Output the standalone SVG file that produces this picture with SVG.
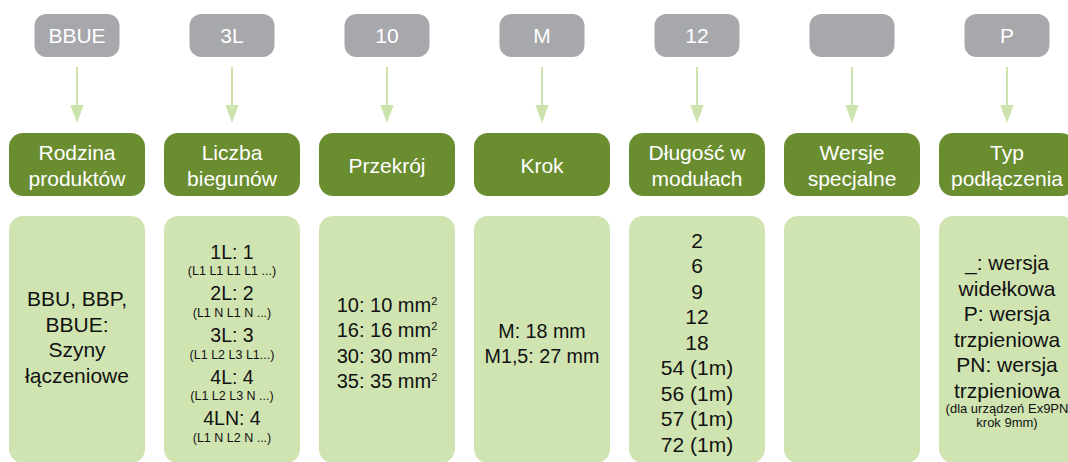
<svg xmlns="http://www.w3.org/2000/svg" width="1068" height="462" viewBox="0 0 1068 462">
<style>
.code{fill:#a7a8ab}
.head{fill:#6a8d30}
.body{fill:#d0e4b1}
text{font-family:"Liberation Sans",Arial,sans-serif;text-anchor:middle}
.wt{fill:#ffffff;font-size:21px}
.bt{fill:#111111;font-size:21px}
.lc{fill:#111111;font-size:19.5px}
.sm{fill:#111111;font-size:12.5px}
.kr{fill:#111111;font-size:19.7px}
.pr{fill:#111111;font-size:20px}
.nt{fill:#111111;font-size:13px}
.arr{stroke:#cde3ad;stroke-width:2;fill:none}
</style>
<defs>
<marker id="ah" markerUnits="userSpaceOnUse" markerWidth="18" markerHeight="14" refX="0" refY="6.7" orient="auto">
<path d="M0,0 L18,6.7 L0,13.4 Z" fill="#cde3ad"/>
</marker>
</defs>
<rect width="1068" height="462" fill="#ffffff"/>
<g id="connectors">
<line class="arr" x1="77" y1="67" x2="77" y2="105" marker-end="url(#ah)"/>
<line class="arr" x1="232" y1="67" x2="232" y2="105" marker-end="url(#ah)"/>
<line class="arr" x1="387" y1="67" x2="387" y2="105" marker-end="url(#ah)"/>
<line class="arr" x1="542" y1="67" x2="542" y2="105" marker-end="url(#ah)"/>
<line class="arr" x1="697" y1="67" x2="697" y2="105" marker-end="url(#ah)"/>
<line class="arr" x1="852" y1="67" x2="852" y2="105" marker-end="url(#ah)"/>
<line class="arr" x1="1007" y1="67" x2="1007" y2="105" marker-end="url(#ah)"/>
</g>
<g id="code-bbue"><rect class="code" x="34.5" y="14" width="85" height="43" rx="12"/><text class="wt" x="77" y="43">BBUE</text></g>
<g id="code-3l"><rect class="code" x="189.5" y="14" width="85" height="43" rx="12"/><text class="wt" x="232" y="43">3L</text></g>
<g id="code-10"><rect class="code" x="344.5" y="14" width="85" height="43" rx="12"/><text class="wt" x="387" y="43">10</text></g>
<g id="code-m"><rect class="code" x="499.5" y="14" width="85" height="43" rx="12"/><text class="wt" x="542" y="43">M</text></g>
<g id="code-12"><rect class="code" x="654.5" y="14" width="85" height="43" rx="12"/><text class="wt" x="697" y="43">12</text></g>
<g id="code-special"><rect class="code" x="809.5" y="14" width="85" height="43" rx="12"/></g>
<g id="code-p"><rect class="code" x="964.5" y="14" width="85" height="43" rx="12"/><text class="wt" x="1007" y="43">P</text></g>

<g id="head-rodzina"><rect class="head" x="9" y="133" width="136" height="63" rx="14"/><text class="wt" x="77" y="159.5">Rodzina</text><text class="wt" x="77" y="185.5">produktów</text></g>
<g id="head-liczba"><rect class="head" x="164" y="133" width="136" height="63" rx="14"/><text class="wt" x="232" y="159.5">Liczba</text><text class="wt" x="232" y="185.5">biegunów</text></g>
<g id="head-przekroj"><rect class="head" x="319" y="133" width="136" height="63" rx="14"/><text class="wt" x="387" y="172.5">Przekrój</text></g>
<g id="head-krok"><rect class="head" x="474" y="133" width="136" height="63" rx="14"/><text class="wt" x="542" y="172.5">Krok</text></g>
<g id="head-dlugosc"><rect class="head" x="629" y="133" width="136" height="63" rx="14"/><text class="wt" x="697" y="159.5">Długość w</text><text class="wt" x="697" y="185.5">modułach</text></g>
<g id="head-wersje"><rect class="head" x="784" y="133" width="136" height="63" rx="14"/><text class="wt" x="852" y="159.5">Wersje</text><text class="wt" x="852" y="185.5">specjalne</text></g>
<g id="head-typ"><rect class="head" x="939" y="133" width="136" height="63" rx="14"/><text class="wt" x="1007" y="159.5">Typ</text><text class="wt" x="1007" y="185.5">podłączenia</text></g>

<g id="body-rodzina"><rect class="body" x="9" y="216" width="136" height="247" rx="14"/>
<text class="bt" x="77" y="306">BBU, BBP,</text>
<text class="bt" x="77" y="331.5">BBUE:</text>
<text class="bt" x="77" y="357">Szyny</text>
<text class="bt" x="77" y="382.5">łączeniowe</text>
</g>
<g id="body-liczba"><rect class="body" x="164" y="216" width="136" height="247" rx="14"/>
<text class="lc" x="232" y="258.8">1L: 1</text>
<text class="sm" x="232" y="275.4">(L1 L1 L1 L1 ...)</text>
<text class="lc" x="232" y="300.4">2L: 2</text>
<text class="sm" x="232" y="317">(L1 N L1 N ...)</text>
<text class="lc" x="232" y="342">3L: 3</text>
<text class="sm" x="232" y="358.6">(L1 L2 L3 L1...)</text>
<text class="lc" x="232" y="383.6">4L: 4</text>
<text class="sm" x="232" y="400.2">(L1 L2 L3 N ...)</text>
<text class="lc" x="232" y="425.2">4LN: 4</text>
<text class="sm" x="232" y="441.8">(L1 N L2 N ...)</text>
</g>
<g id="body-przekroj"><rect class="body" x="319" y="216" width="136" height="247" rx="14"/>
<text class="pr" x="387" y="311.7">10: 10 mm<tspan font-size="11" dy="-7">2</tspan></text>
<text class="pr" x="387" y="337.1">16: 16 mm<tspan font-size="11" dy="-7">2</tspan></text>
<text class="pr" x="387" y="362.5">30: 30 mm<tspan font-size="11" dy="-7">2</tspan></text>
<text class="pr" x="387" y="387.9">35: 35 mm<tspan font-size="11" dy="-7">2</tspan></text>
</g>
<g id="body-krok"><rect class="body" x="474" y="216" width="136" height="247" rx="14"/>
<text class="kr" x="542" y="338.3">M: 18 mm</text>
<text class="kr" x="542" y="362.7">M1,5: 27 mm</text>
</g>
<g id="body-dlugosc"><rect class="body" x="629" y="216" width="136" height="247" rx="14"/>
<text class="bt" x="697" y="247.7">2</text>
<text class="bt" x="697" y="273.2">6</text>
<text class="bt" x="697" y="298.7">9</text>
<text class="bt" x="697" y="324.2">12</text>
<text class="bt" x="697" y="349.7">18</text>
<text class="bt" x="697" y="375.2">54 (1m)</text>
<text class="bt" x="697" y="400.7">56 (1m)</text>
<text class="bt" x="697" y="426.2">57 (1m)</text>
<text class="bt" x="697" y="451.7">72 (1m)</text>
</g>
<g id="body-wersje"><rect class="body" x="784" y="216" width="136" height="247" rx="14"/></g>
<g id="body-typ"><rect class="body" x="939" y="216" width="136" height="247" rx="14"/>
<text class="bt" x="1007" y="270">_: wersja</text>
<text class="bt" x="1007" y="295.5">widełkowa</text>
<text class="bt" x="1007" y="321">P: wersja</text>
<text class="bt" x="1007" y="346.5">trzpieniowa</text>
<text class="bt" x="1007" y="372">PN: wersja</text>
<text class="bt" x="1007" y="397.5">trzpieniowa</text>
<text class="nt" x="1007" y="413">(dla urządzeń Ex9PN</text>
<text class="nt" x="1007" y="426.5">krok 9mm)</text>
</g>
</svg>
